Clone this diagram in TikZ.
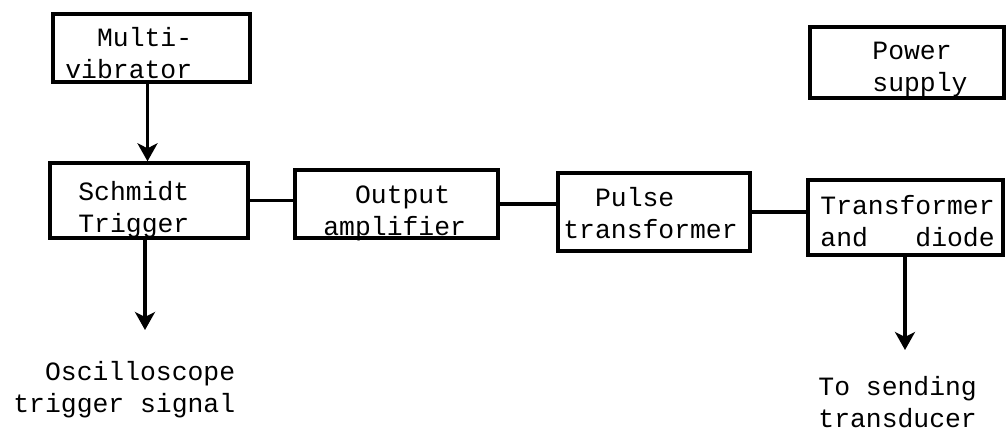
\documentclass[tikz,border=0pt]{standalone}
\usepackage{fontspec}
\newfontfamily\tw{Liberation Mono}
\usetikzlibrary{arrows.meta}
\tikzset{
  box/.style={draw, line width=1.7pt, inner sep=0pt},
  lbl/.style={anchor=base west, align=left, inner sep=0pt, font=\tw\fontsize{13.2}{16}\selectfont},
  conn/.style={line width=1.6pt},
  arr/.style={line width=1.6pt, -{Stealth[length=9pt,width=10pt,inset=2.5pt]}}
}
\begin{document}
\begin{tikzpicture}[x=0.5pt,y=-0.5pt]
\useasboundingbox (0,0) rectangle (1006,430);
% boxes
\node[box, minimum width=98.5pt, minimum height=34pt] (mv) at (151.5,48) {};
\node[box, minimum width=99pt, minimum height=37.5pt] (st) at (149,200.5) {};
\node[box, minimum width=101.5pt, minimum height=34pt] (oa) at (396.5,204) {};
\node[box, minimum width=96pt, minimum height=39pt] (pt) at (654,212) {};
\node[box, minimum width=97.5pt, minimum height=37.5pt] (td) at (905.5,217.5) {};
\node[box, minimum width=97pt, minimum height=35.5pt] (ps) at (907,62.5) {};
% texts (anchor at baseline of last line)
\node[lbl] (mvt) at (65,78) {\phantom{xx}Multi-\\vibrator};
\node[lbl] (stt) at (78,232) {Schmidt\\Trigger};
\node[lbl] (oat) at (323,235) {\phantom{xx}Output\\amplifier};
\node[lbl] (ptt) at (563,238) {\phantom{xx}Pulse\\transformer};
\node[lbl] (tdt) at (820,246) {Transformer\\and\phantom{xxx}diode};
\node[lbl] (pst) at (872,91) {Power\\supply};
\node[lbl] (osc) at (13,412) {\phantom{xx}Oscilloscope\\trigger signal};
\node[lbl] (out) at (818,427) {To sending\\transducer};
% arrow end points
\coordinate (oscend) at (145,330);
\coordinate (outend) at (905,350);
% connectors
\draw[arr] ([xshift=-2pt]mv.south) -- ([xshift=-2pt]mv.south |- st.north);
\draw[conn] (st.east) -- (st.east -| oa.west);
\draw[conn] (oa.east) -- (oa.east -| pt.west);
\draw[conn] (pt.east) -- (pt.east -| td.west);
\draw[arr] (st.south -| oscend) -- (oscend);
\draw[arr] (td.south -| outend) -- (outend);
\end{tikzpicture}
\end{document}
